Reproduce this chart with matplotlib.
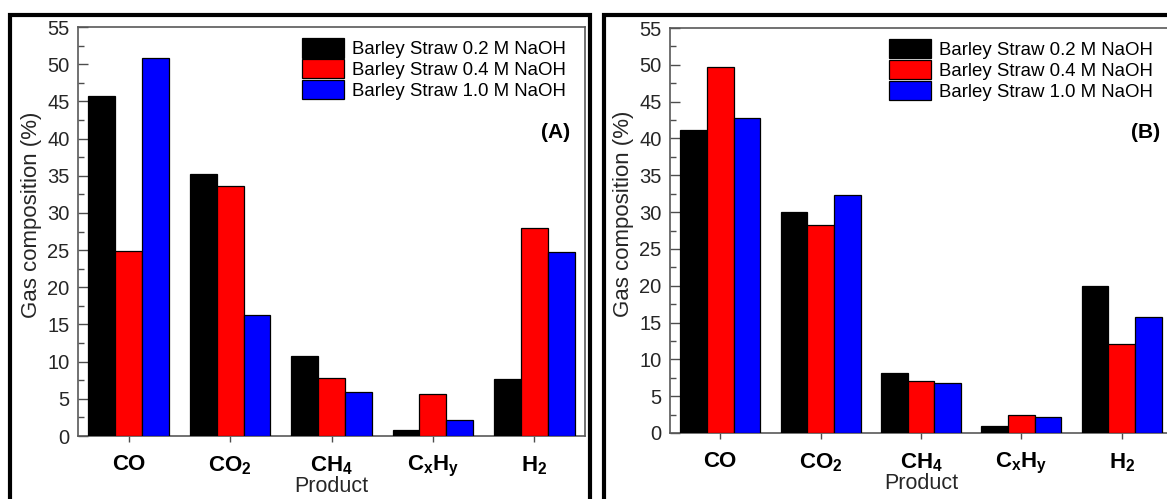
import matplotlib
matplotlib.use("Agg")
import matplotlib.pyplot as plt
from matplotlib.patches import Rectangle, Patch
from matplotlib.ticker import MultipleLocator
import numpy as np

plt.rcParams["font.family"] = ["Liberation Sans", "DejaVu Sans"]
plt.rcParams["mathtext.fontset"] = "custom"
plt.rcParams["mathtext.bf"] = "Liberation Sans:bold"
plt.rcParams["mathtext.rm"] = "Liberation Sans:bold"
plt.rcParams["mathtext.default"] = "bf"

# --- data ---
products = ["CO", "CO$_2$", "CH$_4$", "C$_x$H$_y$", "H$_2$"]
series = ["Barley Straw 0.2 M NaOH", "Barley Straw 0.4 M NaOH", "Barley Straw 1.0 M NaOH"]
colors = ["#000000", "#ff0000", "#0000ff"]

panel_a_02 = [45.7, 35.2, 10.7, 0.8, 7.7]
panel_a_04 = [24.9, 33.6, 7.8, 5.7, 28.0]
panel_a_10 = [50.8, 16.3, 5.9, 2.1, 24.7]

panel_b_02 = [41.1, 30.0, 8.1, 0.9, 19.9]
panel_b_04 = [49.7, 28.3, 7.1, 2.5, 12.1]
panel_b_10 = [42.8, 32.3, 6.8, 2.2, 15.8]

W, H = 1167, 499
fig = plt.figure(figsize=(W / 100, H / 100), dpi=100)


def px_axes(x0, y0, x1, y1):
    """axes from pixel box (top-left origin)"""
    return fig.add_axes([x0 / W, 1 - y1 / H, (x1 - x0) / W, (y1 - y0) / H])


def draw_panel(ax, vals, tag, leg_x, tag_x):
    x = np.arange(len(products))
    bw = 0.265
    for k, (v, c) in enumerate(zip(vals, colors)):
        ax.bar(x + (k - 1) * bw, v, bw, color=c, edgecolor="black", linewidth=0.9, zorder=3)
    ax.set_xlim(-0.5, 4.5)
    ax.set_ylim(0, 55)
    ax.set_xticks(x)
    ax.set_xticklabels(products, fontsize=16, fontweight="bold")
    ax.yaxis.set_major_locator(MultipleLocator(5))
    ax.yaxis.set_minor_locator(MultipleLocator(2.5))
    ax.tick_params(axis="y", which="major", direction="in", length=7, width=1,
                   labelsize=14.5, pad=6, color="0.3", labelcolor="0.15")
    ax.tick_params(axis="y", which="minor", direction="in", length=4, width=1, color="0.3")
    ax.tick_params(axis="x", direction="out", length=4, width=1, pad=9, color="0.3")
    for s in ax.spines.values():
        s.set_color("0.35")
        s.set_linewidth(1.2)
    ax.set_ylabel("Gas composition (%)", fontsize=16, labelpad=4, color="0.15", y=0.54)
    ax.set_xlabel("Product", fontsize=15.5, labelpad=-2.5, color="0.15")

    handles = [Patch(facecolor=c, edgecolor="black", linewidth=0.9) for c in colors]
    ax.legend(handles, series, loc="upper right", bbox_to_anchor=(leg_x, 0.972),
              frameon=False, fontsize=13.4, borderpad=0, borderaxespad=0,
              handlelength=2.25, handleheight=1.2, handletextpad=0.43,
              labelspacing=0.05)
    ax.text(tag_x, 0.742, tag, transform=ax.transAxes, ha="right", va="center",
            fontsize=15, fontweight="bold")


ax_a = px_axes(78, 27, 585, 436)
draw_panel(ax_a, [panel_a_02, panel_a_04, panel_a_10], "(A)", 0.962, 0.970)

ax_b = px_axes(670, 28, 1172, 433)
draw_panel(ax_b, [panel_b_02, panel_b_04, panel_b_10], "(B)", 0.962, 0.976)

# thick outer frames of the two panels
for x0, x1 in [(10, 590), (604, 1250)]:
    fig.add_artist(Rectangle((x0 / W, -0.2), (x1 - x0) / W, 1.2 - 14.5 / H,
                             transform=fig.transFigure, fill=False,
                             edgecolor="black", linewidth=3.0, clip_on=False))

fig.savefig("out.png", dpi=100)
